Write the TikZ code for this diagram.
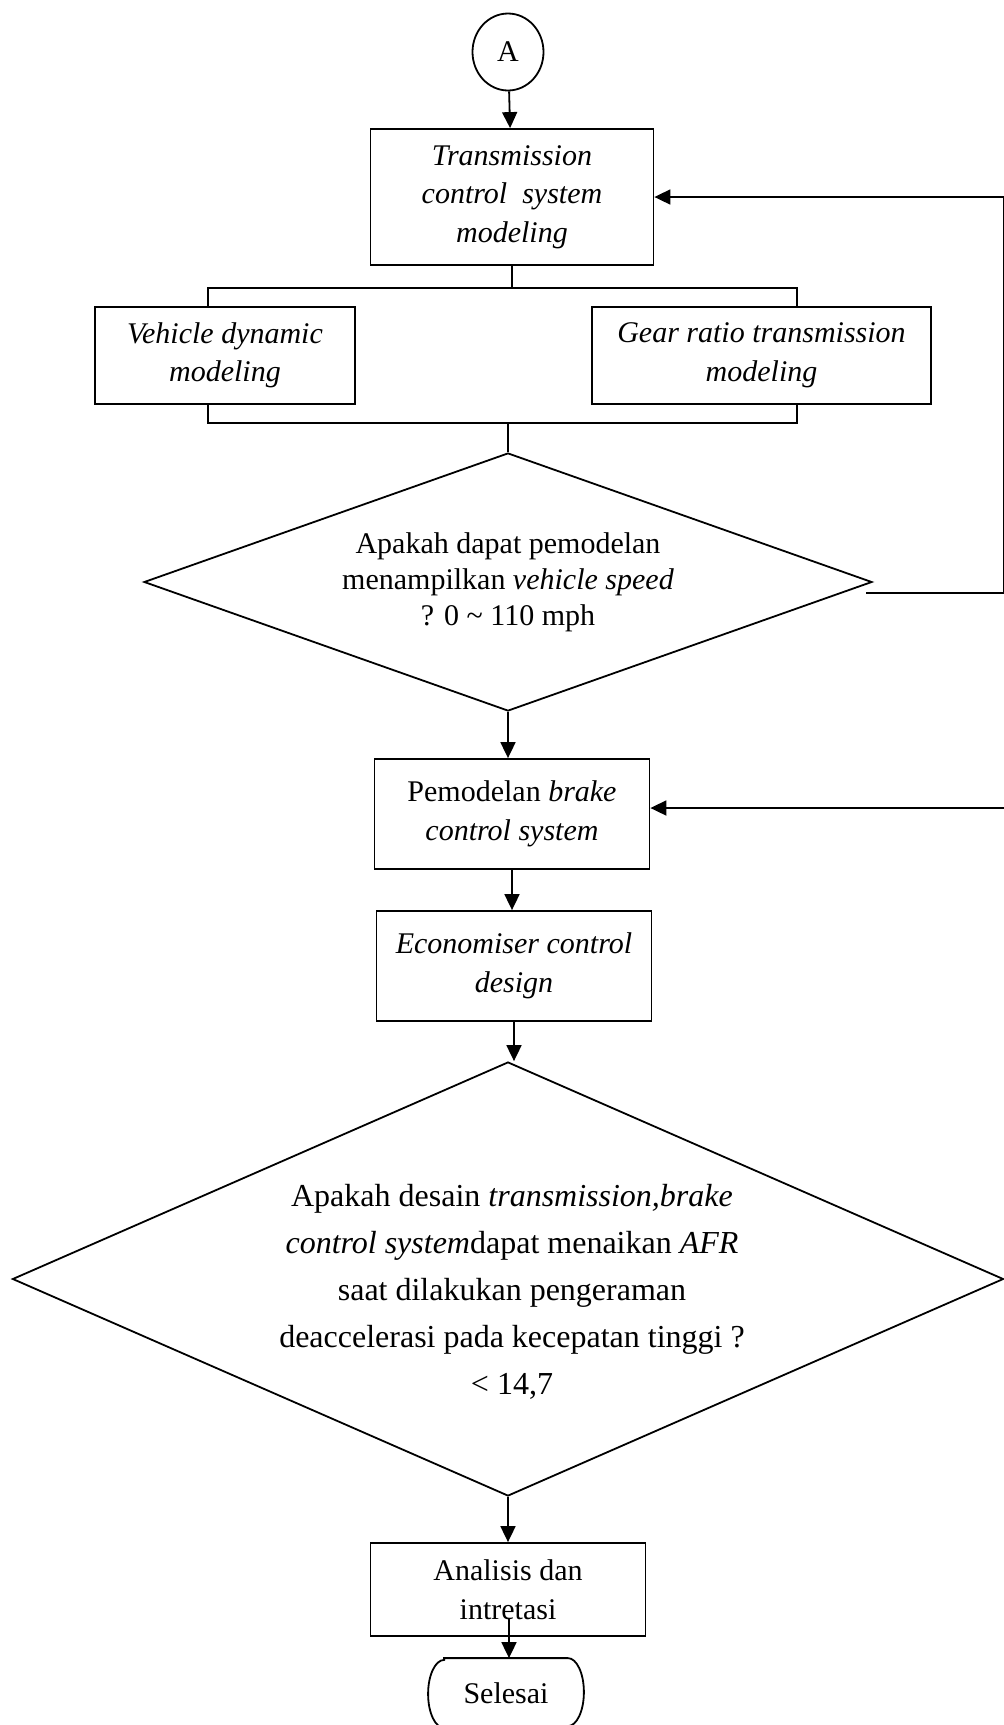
\documentclass[tikz,border=0pt]{standalone}
\usepackage{fontspec}
\setmainfont{Liberation Serif}
\usetikzlibrary{arrows.meta,calc,positioning,shapes.geometric}

\begin{document}
\begin{tikzpicture}[x=1pt,y=1pt,line width=1.8pt,
  every node/.style={font=\fontsize{30}{38.5}\selectfont},
  box/.style={draw,rectangle,align=center,inner sep=2pt},
  dec/.style={draw,diamond,inner sep=0pt,align=center},
  arr/.style={-{Triangle[length=16pt,width=15pt]}}]
\clip (0,0) rectangle (1004,-1725);
% top part
\node[draw,ellipse,minimum width=71,minimum height=77,inner sep=0pt] (start) at (508,-52) {A};
\node[box,minimum width=283,minimum height=136] (trans) at (512,-197) {\textit{Transmission}\\\textit{control\ \ system}\\\textit{modeling}};
\node[box,minimum width=260,minimum height=97] (veh) at (225,-355.5) {\textit{Vehicle dynamic}\\\textit{modeling}};
\node[box,minimum width=339,minimum height=97] (gear) at (761.5,-355.5) {\textit{Gear ratio transmission}\\\textit{modeling}};
\node[dec,aspect=2.82,minimum width=728,minimum height=258,font=\fontsize{30}{36}\selectfont] (dec1) at (508,-582) {Apakah dapat pemodelan\\menampilkan \textit{vehicle speed}\\? 0 \textasciitilde{} 110 mph};
\coordinate (tl) at (208,-288);
\coordinate (tr) at (797,-288);
\coordinate (bl) at (208,-423);
\coordinate (br) at (797,-423);
\coordinate (bm) at (508,-423);
\draw[arr] (start) -- (trans);
\draw (trans.south) -- (trans.south |- tl);
\draw (tl |- veh.north) -- (tl) -- (tr) -- (tr |- gear.north);
\draw (bl |- veh.south) -- (bl) -- (br) -- (br |- gear.south);
\draw (bm) -- (dec1.north);
% feedback to the top
\coordinate (d1r) at (866,-593);
\coordinate (r1) at (1004.1,-593);
\draw[arr] (d1r) -- (r1) |- (trans.east);
% middle part
\node[box,minimum width=275,minimum height=110] (brake) at (512,-814) {Pemodelan \textit{brake}\\\textit{control system}};
\node[box,minimum width=275,minimum height=110] (econ) at (514,-966) {\textit{Economiser control}\\\textit{design}};
\coordinate (r2) at (1004,-808);
\draw[arr] (dec1.south) -- (dec1.south |- brake.north);
\draw[arr] (r2) -- (r2 -| brake.east);
\draw[arr] (brake.south) -- (brake.south |- econ.north);
% second decision
\node[dec,minimum width=991,minimum height=434] (dec2) at (508,-1279) {};
\node[align=center,font=\fontsize{32}{47}\selectfont] (q2) at (512,-1292) {Apakah desain \textit{transmission,brake}\\\textit{control system}dapat menaikan \textit{AFR}\\saat dilakukan pengeraman\\deaccelerasi pada kecepatan tinggi ?\\< 14,7};
\draw[arr] (econ.south) -- (econ.south |- dec2.north);
% end
\node[box,minimum width=275,minimum height=93] (ana) at (508,-1589.5) {Analisis dan\\intretasi};
\node[minimum width=154,minimum height=68,inner sep=0pt] (sel) at (506,-1693) {Selesai};
\draw ([xshift=16]sel.north west) -- ([xshift=-16]sel.north east)
  arc[start angle=90,end angle=-90,x radius=16,y radius=34]
  -- ([xshift=16]sel.south west)
  arc[start angle=270,end angle=90,x radius=16,y radius=34] -- cycle;
\coordinate (ain) at (509,-1618);
\draw[arr] (dec2.south) -- (dec2.south |- ana.north);
\draw[arr] (ain) -- (ain |- sel.north);
\end{tikzpicture}
\end{document}
